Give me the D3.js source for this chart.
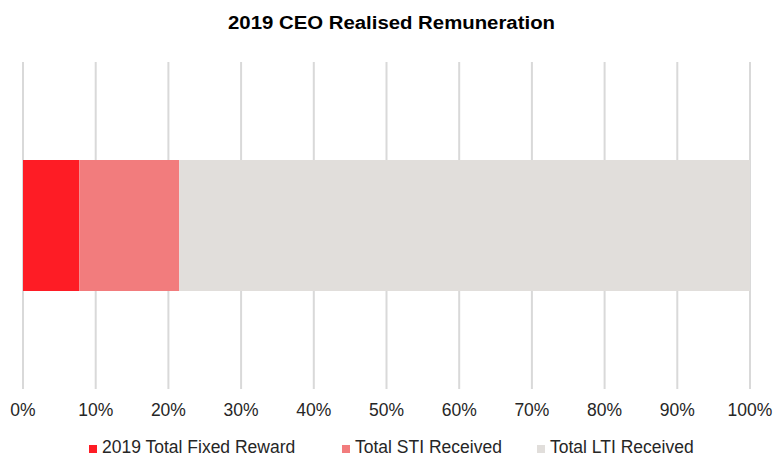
<!DOCTYPE html>
<html>
<head>
<meta charset="utf-8">
<script src="https://cdn.jsdelivr.net/npm/d3@7"></script>
<style>
  body { margin: 0; background: #fff; }
  text { font-family: "Liberation Sans", Arial, sans-serif; fill: #262626; }
</style>
</head>
<body>
<div id="chart"></div>
<script>
(function () {
    var width = 774,
        height = 457;

    // data
    var series = ["2019 Total Fixed Reward", "Total STI Received", "Total LTI Received"];
    var values = [7.75, 13.75, 78.5];
    var colors = ["#fe1c25", "#f27c7d", "#e1dedb"];
    var ticks = [0, 10, 20, 30, 40, 50, 60, 70, 80, 90, 100];

    var svg = d3.select("#chart")
        .append("svg")
        .attr("width", width)
        .attr("height", height);

    var x = d3.scaleLinear().domain([0, 100]).range([23, 750]);

    // title
    svg.append("text")
        .attr("x", 228)
        .attr("y", 29)
        .attr("textLength", 327)
        .attr("lengthAdjust", "spacingAndGlyphs")
        .style("font-size", "18px")
        .style("font-weight", "bold")
        .style("fill", "#000")
        .text("2019 CEO Realised Remuneration");

    // gridlines
    svg.selectAll(".grid")
        .data(ticks)
        .enter().append("line")
        .attr("class", "grid")
        .attr("x1", function (d) { return x(d); })
        .attr("x2", function (d) { return x(d); })
        .attr("y1", 62)
        .attr("y2", 389)
        .attr("stroke", "#d9d9d9")
        .attr("stroke-width", 2);

    // stacked segments
    var stack = [];
    var acc = 0;
    values.forEach(function (v, i) {
        stack.push({ name: series[i], x0: acc, x1: acc + v, color: colors[i] });
        acc += v;
    });

    var barTop = 160, barH = 131;

    svg.selectAll(".seg")
        .data(stack)
        .enter().append("rect")
        .attr("class", "seg")
        .attr("x", function (d) { return x(d.x0); })
        .attr("width", function (d) { return x(d.x1) - x(d.x0); })
        .attr("y", barTop)
        .attr("height", barH)
        .attr("fill", function (d) { return d.color; });

    // axis labels
    svg.selectAll(".tick-label")
        .data(ticks)
        .enter().append("text")
        .attr("class", "tick-label")
        .attr("x", function (d) { return x(d); })
        .attr("y", 416)
        .attr("text-anchor", "middle")
        .style("font-size", "17.5px")
        .text(function (d) { return d + "%"; });

    // legend, sitting right on the bottom edge
    var legendX = [89, 342, 537];
    var legend = svg.selectAll(".legend")
        .data(stack)
        .enter().append("g")
        .attr("class", "legend")
        .attr("transform", function (d, i) { return "translate(" + legendX[i] + ",0)"; });

    legend.append("rect")
        .attr("x", 0)
        .attr("y", 445)
        .attr("width", 8)
        .attr("height", 8)
        .attr("fill", function (d) { return d.color; });

    legend.append("text")
        .attr("x", 13)
        .attr("y", 453)
        .style("font-size", "17.5px")
        .text(function (d) { return d.name; });
})();
</script>
</body>
</html>
